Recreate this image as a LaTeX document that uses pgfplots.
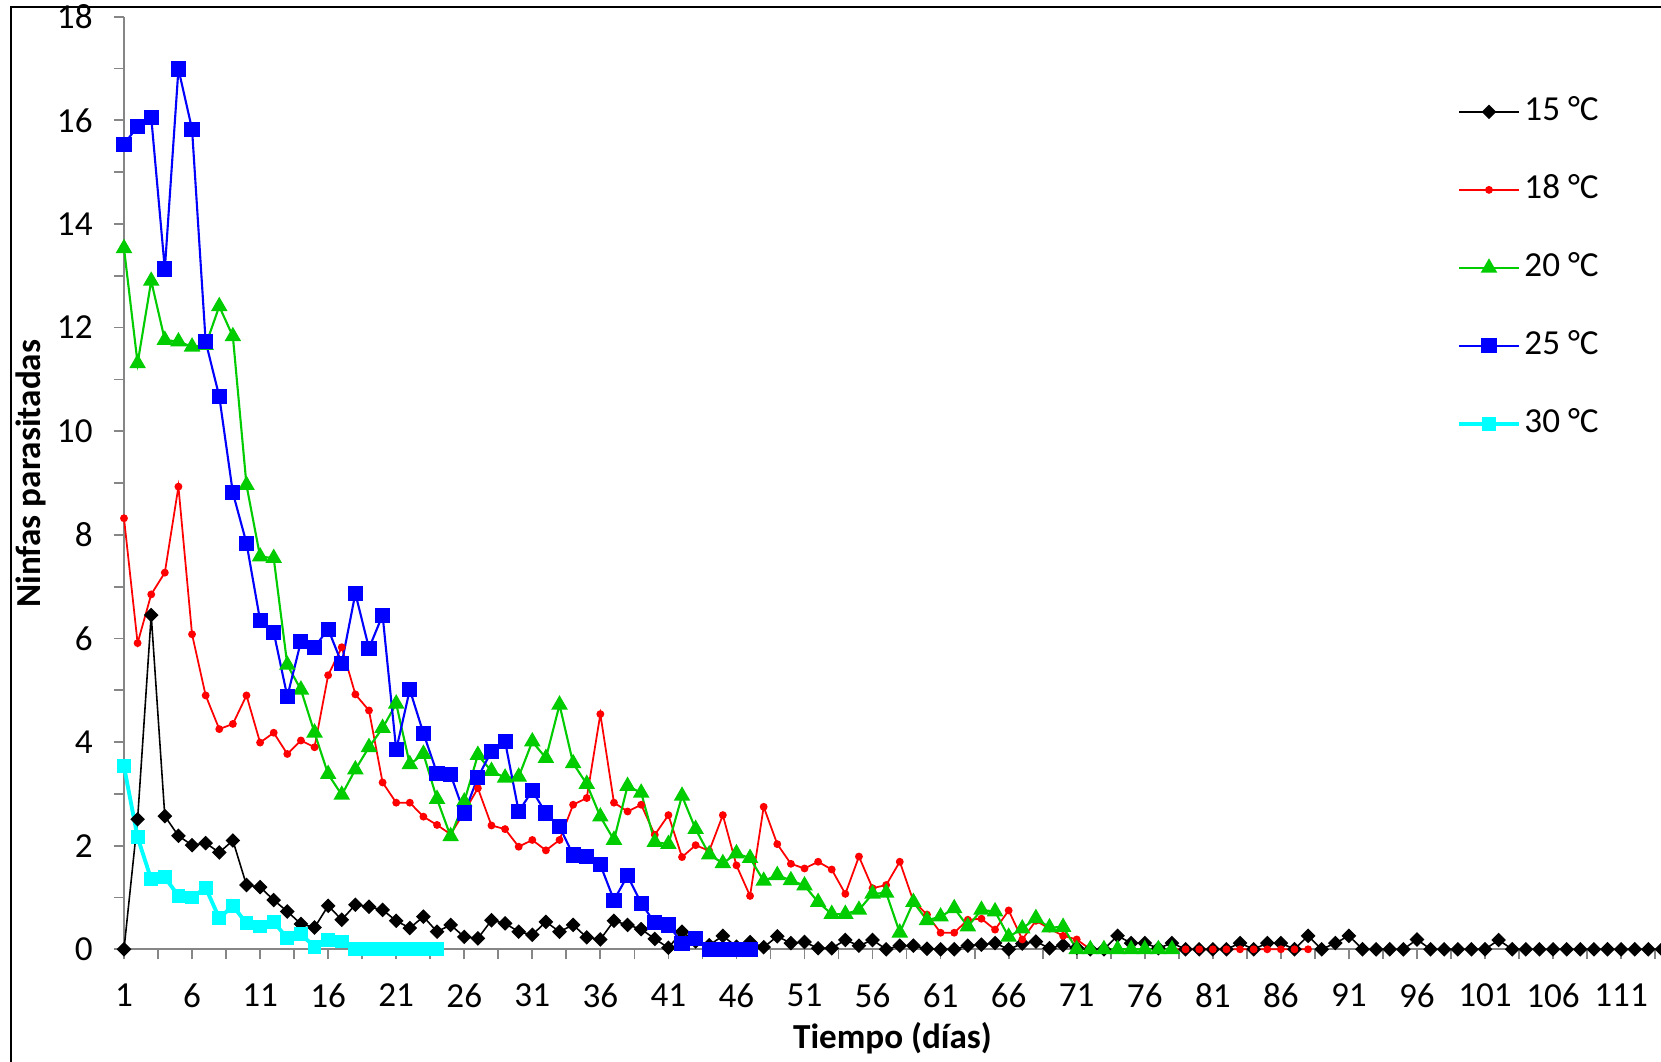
\documentclass[border=0pt]{standalone}
\usepackage{fontspec}
\setmainfont{Carlito}
\usepackage{pgfplots}
\pgfplotsset{compat=1.18}
\definecolor{axgray}{RGB}{134,134,134}
\definecolor{cgreen}{RGB}{0,204,0}
\definecolor{cblue}{RGB}{0,0,255}
\definecolor{ccyan}{RGB}{0,255,255}
\definecolor{cred}{RGB}{255,0,0}
\begin{document}
\begin{tikzpicture}
\begin{axis}[
  name=ax,
  scale only axis,
  width=153.7mm, height=93.26mm,
  xmin=1, xmax=113.93, ymin=0, ymax=18,
  clip=false,
  axis x line*=bottom, axis y line*=left,
  axis line style={draw=axgray, line width=0.5pt, -},
  xtick={1,6,...,111}, minor xtick={3.5,8.5,...,113.5},
  ytick={0,2,...,18}, minor ytick={1,3,...,17},
  tick align=outside,
  major tick length=1mm, minor tick length=1mm,
  every tick/.style={draw=axgray, line width=0.5pt},
  /pgf/number format/assume math mode=true,
  ticklabel style={font=\fontsize{10}{12}\selectfont},
  xticklabel style={yshift=-1.2mm},
  yticklabel style={xshift=-0.9mm},
  xlabel={\bfseries Tiempo (días)},
  ylabel={\bfseries Ninfas parasitadas},
  every axis x label/.style={at={(axis description cs:0.5,-0.0951)}, anchor=center},
  every axis y label/.style={at={(axis description cs:-0.0605,0.51)}, anchor=center, rotate=90},
  legend cell align=left,
  legend style={at={(axis description cs:0.860,0.927)}, anchor=north west, draw=none, fill=none,
    font=\fontsize{10}{12}\selectfont, row sep=11.2pt,
    nodes={inner sep=1pt, text height=7pt, text depth=2pt},
    /tikz/every even column/.append style={column sep=0pt}},
]
\addplot[black, line width=0.45pt, mark=square*, mark size=0.44mm, mark options={rotate=45, fill=black, draw=black}] coordinates {
(1,0) (2,2.51) (3,6.45) (4,2.57) (5,2.19) (6,2.01) (7,2.05) (8,1.87) (9,2.10) (10,1.24)
(11,1.20) (12,0.95) (13,0.73) (14,0.49) (15,0.42) (16,0.84) (17,0.57) (18,0.86) (19,0.82) (20,0.76)
(21,0.55) (22,0.41) (23,0.63) (24,0.34) (25,0.47) (26,0.24) (27,0.21) (28,0.56) (29,0.50) (30,0.34)
(31,0.28) (32,0.53) (33,0.34) (34,0.47) (35,0.23) (36,0.19) (37,0.55) (38,0.47) (39,0.39) (40,0.20)
(41,0.03) (42,0.34) (43,0.15) (44,0.08) (45,0.26) (46,0.05) (47,0.14) (48,0.04) (49,0.25) (50,0.12)
(51,0.14) (52,0.02) (53,0.02) (54,0.18) (55,0.07) (56,0.18) (57,0) (58,0.07) (59,0.07) (60,0.01)
(61,0) (62,0) (63,0.07) (64,0.09) (65,0.12) (66,0) (67,0.11) (68,0.15) (69,0.02) (70,0.08)
(71,0.03) (72,0) (73,0) (74,0.26) (75,0.12) (76,0.12) (77,0.02) (78,0.12) (79,0) (80,0)
(81,0) (82,0) (83,0.12) (84,0) (85,0.12) (86,0.12) (87,0) (88,0.26) (89,0) (90,0.12)
(91,0.26) (92,0) (93,0) (94,0) (95,0) (96,0.19) (97,0) (98,0) (99,0) (100,0)
(101,0) (102,0.18) (103,0) (104,0) (105,0) (106,0) (107,0) (108,0) (109,0) (110,0)
(111,0) (112,0) (113,0) (114,0)
};
\addlegendentry{15 °C}
\addplot[cred, line width=0.5pt, mark=*, mark size=0.3mm, mark options={fill=cred, draw=cred}] coordinates {
(1,8.32) (2,5.91) (3,6.85) (4,7.27) (5,8.93) (6,6.08) (7,4.90) (8,4.25) (9,4.35) (10,4.90)
(11,3.99) (12,4.18) (13,3.77) (14,4.03) (15,3.90) (16,5.29) (17,5.83) (18,4.92) (19,4.61) (20,3.22)
(21,2.83) (22,2.83) (23,2.56) (24,2.40) (25,2.22) (26,2.65) (27,3.11) (28,2.39) (29,2.32) (30,1.98)
(31,2.11) (32,1.91) (33,2.11) (34,2.79) (35,2.92) (36,4.54) (37,2.83) (38,2.66) (39,2.79) (40,2.21)
(41,2.59) (42,1.78) (43,2.01) (44,1.90) (45,2.59) (46,1.62) (47,1.03) (48,2.75) (49,2.03) (50,1.65)
(51,1.56) (52,1.69) (53,1.54) (54,1.07) (55,1.79) (56,1.18) (57,1.24) (58,1.69) (59,0.93) (60,0.67)
(61,0.32) (62,0.32) (63,0.57) (64,0.59) (65,0.38) (66,0.75) (67,0.19) (68,0.55) (69,0.40) (70,0.26)
(71,0.19) (72,0) (73,0) (74,0) (75,0) (76,0) (77,0) (78,0) (79,0) (80,0)
(81,0) (82,0) (83,0) (84,0) (85,0) (86,0) (87,0) (88,0)
};
\addlegendentry{18 °C}
\addplot[cgreen, line width=0.6pt, mark=triangle*, mark size=0.75mm, mark options={fill=cgreen, draw=cgreen}] coordinates {
(1,13.53) (2,11.31) (3,12.90) (4,11.76) (5,11.73) (6,11.63) (7,11.66) (8,12.41) (9,11.83) (10,8.96)
(11,7.58) (12,7.55) (13,5.49) (14,5.01) (15,4.18) (16,3.38) (17,2.98) (18,3.47) (19,3.90) (20,4.27)
(21,4.74) (22,3.57) (23,3.77) (24,2.90) (25,2.18) (26,2.85) (27,3.75) (28,3.44) (29,3.31) (30,3.33)
(31,4.01) (32,3.69) (33,4.72) (34,3.59) (35,3.19) (36,2.56) (37,2.11) (38,3.15) (39,3.02) (40,2.07)
(41,2.03) (42,2.96) (43,2.32) (44,1.83) (45,1.66) (46,1.85) (47,1.76) (48,1.32) (49,1.43) (50,1.33)
(51,1.23) (52,0.91) (53,0.68) (54,0.68) (55,0.76) (56,1.07) (57,1.09) (58,0.32) (59,0.91) (60,0.56)
(61,0.63) (62,0.79) (63,0.44) (64,0.76) (65,0.73) (66,0.24) (67,0.40) (68,0.60) (69,0.42) (70,0.43)
(71,0) (72,0) (73,0) (74,0) (75,0) (76,0) (77,0) (78,0)
};
\addlegendentry{20 °C}
\addplot[cblue, line width=0.6pt, mark=square*, mark size=0.65mm, mark options={fill=cblue, draw=cblue}] coordinates {
(1,15.54) (2,15.88) (3,16.06) (4,13.13) (5,16.99) (6,15.83) (7,11.73) (8,10.67) (9,8.81) (10,7.84)
(11,6.35) (12,6.12) (13,4.88) (14,5.94) (15,5.83) (16,6.18) (17,5.52) (18,6.87) (19,5.81) (20,6.45)
(21,3.85) (22,5.01) (23,4.17) (24,3.40) (25,3.37) (26,2.63) (27,3.32) (28,3.82) (29,4.01) (30,2.66)
(31,3.06) (32,2.63) (33,2.37) (34,1.82) (35,1.79) (36,1.63) (37,0.95) (38,1.42) (39,0.89) (40,0.51)
(41,0.47) (42,0.12) (43,0.21) (44,0) (45,0) (46,0) (47,0)
};
\addlegendentry{25 °C}
\addplot[ccyan, line width=1.1pt, mark=square*, mark size=0.5mm, mark options={fill=ccyan, draw=ccyan}] coordinates {
(1,3.53) (2,2.16) (3,1.35) (4,1.39) (5,1.03) (6,1.00) (7,1.19) (8,0.60) (9,0.84) (10,0.50)
(11,0.44) (12,0.53) (13,0.21) (14,0.29) (15,0.05) (16,0.18) (17,0.15) (18,0) (19,0) (20,0)
(21,0) (22,0) (23,0) (24,0)
};
\addlegendentry{30 °C}
\end{axis}
\draw[black, line width=0.2mm] ([xshift=-11.34mm,yshift=-13mm]ax.south west) -- ([xshift=-11.34mm,yshift=0.97mm]ax.north west) -- ([xshift=3mm,yshift=0.97mm]ax.north east);
\pgfresetboundingbox
\path[use as bounding box] ([xshift=-12.4mm,yshift=-11.17mm]ax.south west) rectangle ([yshift=1.67mm]ax.north east);
\end{tikzpicture}
\end{document}
